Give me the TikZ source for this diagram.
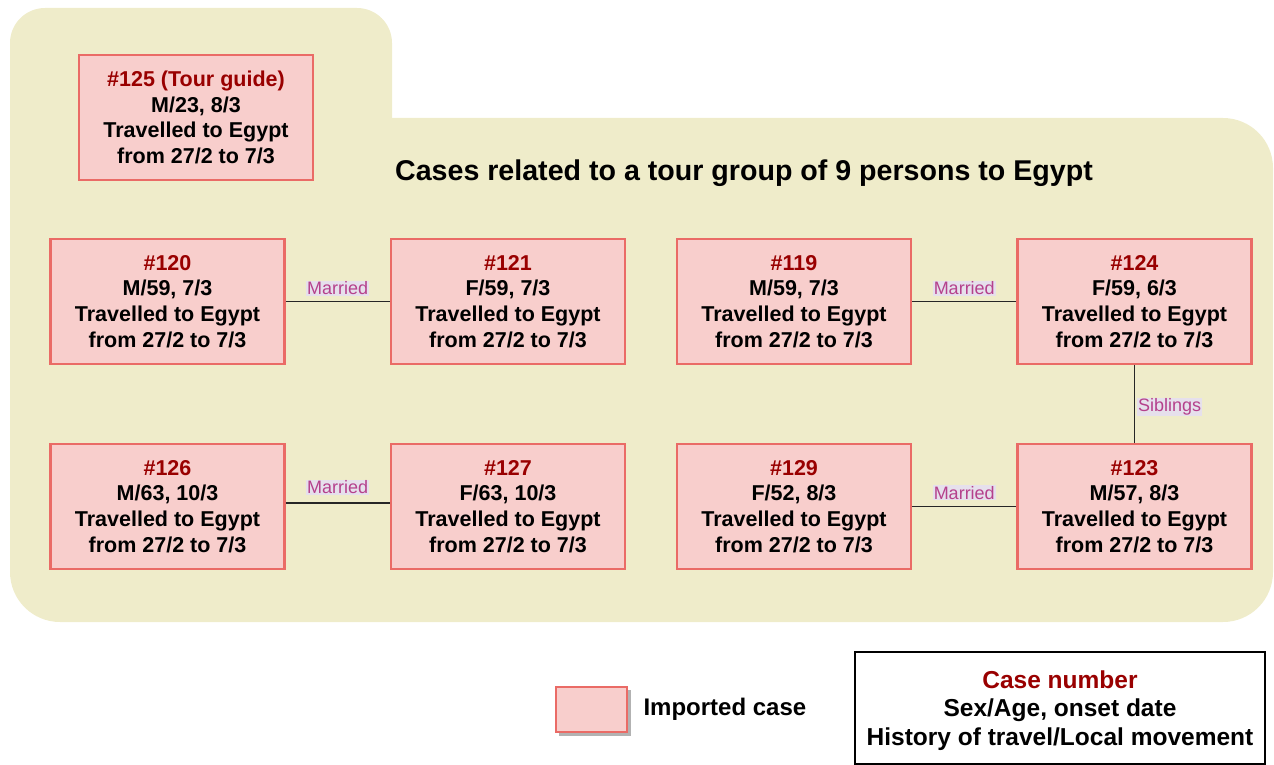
\documentclass[tikz,border=0pt]{standalone}
\usepackage{fontspec}
\setmainfont{Liberation Sans}
\definecolor{bgc}{HTML}{EFECCA}
\definecolor{boxfill}{HTML}{F8CECC}
\definecolor{boxdraw}{HTML}{EA6B66}
\definecolor{casered}{HTML}{990000}
\definecolor{reltext}{HTML}{B5418C}
\definecolor{relbg}{HTML}{E6E0EC}
\begin{document}
\begin{tikzpicture}[x=1pt,y=-1pt,
  casebox/.style={draw=boxdraw,line width=2.6pt,fill=boxfill,minimum width=234pt,minimum height=125pt,inner sep=0pt,align=center,font=\fontsize{21.5}{25.7}\selectfont\bfseries},
  rel/.style={draw=black!85,line width=1.3pt},
  rellabel/.style={fill=relbg,text=reltext,inner sep=1pt,font=\fontsize{18}{20}\selectfont},
]
\useasboundingbox (0,0) rectangle (1274,765);
% background
\fill[bgc,rounded corners=35pt] (10,8) rectangle (392,220);
\fill[bgc,rounded corners=50pt] (10,118) rectangle (1273,622);
% title
\node[font=\fontsize{28.6}{31}\selectfont\bfseries] (title) at (744,173) {Cases related to a tour group of 9 persons to Egypt};
% cases
\node[casebox] (n125) at (196,117.5) {\textcolor{casered}{\#125 (Tour guide)}\\M/23, 8/3\\Travelled to Egypt\\from 27/2 to 7/3};
\node[casebox] (n120) at (167.5,301.5) {\textcolor{casered}{\#120}\\M/59, 7/3\\Travelled to Egypt\\from 27/2 to 7/3};
\node[casebox] (n121) at (508,301.5) {\textcolor{casered}{\#121}\\F/59, 7/3\\Travelled to Egypt\\from 27/2 to 7/3};
\node[casebox] (n119) at (794,301.5) {\textcolor{casered}{\#119}\\M/59, 7/3\\Travelled to Egypt\\from 27/2 to 7/3};
\node[casebox] (n124) at (1134.5,301.5) {\textcolor{casered}{\#124}\\F/59, 6/3\\Travelled to Egypt\\from 27/2 to 7/3};
\node[casebox] (n126) at (167.5,506.5) {\textcolor{casered}{\#126}\\M/63, 10/3\\Travelled to Egypt\\from 27/2 to 7/3};
\node[casebox] (n127) at (508,506.5) {\textcolor{casered}{\#127}\\F/63, 10/3\\Travelled to Egypt\\from 27/2 to 7/3};
\node[casebox] (n129) at (794,506.5) {\textcolor{casered}{\#129}\\F/52, 8/3\\Travelled to Egypt\\from 27/2 to 7/3};
\node[casebox] (n123) at (1134.5,506.5) {\textcolor{casered}{\#123}\\M/57, 8/3\\Travelled to Egypt\\from 27/2 to 7/3};
% relations
\draw[rel] (n120.east) -- node[rellabel,anchor=south,yshift=5pt] {Married} (n121.west);
\draw[rel] ([yshift=3.5pt]n126.east) -- node[rellabel,anchor=south,yshift=7.5pt] {Married} ([yshift=3.5pt]n127.west);
\draw[rel] (n119.east) -- node[rellabel,anchor=south,yshift=5pt] {Married} (n124.west);
\draw[rel] (n129.east) -- node[rellabel,anchor=south,yshift=5.5pt] {Married} (n123.west);
\draw[rel] (n124.south) -- node[rellabel,anchor=west,xshift=2pt,yshift=-3pt] {Siblings} (n123.north);
% legend
\fill[black!30] (559,690) rectangle (631,736);
\node[draw=boxdraw,line width=2.6pt,fill=boxfill,minimum width=71pt,minimum height=45pt,inner sep=0pt] (leg) at (591.5,709.5) {};
\node[anchor=west,font=\fontsize{24}{28}\selectfont\bfseries] (legtext) at (640,709) {Imported case};
\draw[black,line width=2pt] (855,652) rectangle (1265,764);
\node[align=center,inner sep=0pt,font=\fontsize{24.5}{28.5}\selectfont\bfseries] (key) at (1060,710.5) {\textcolor{casered}{Case number}\\Sex/Age, onset date\\History of travel/Local movement};
\end{tikzpicture}
\end{document}
